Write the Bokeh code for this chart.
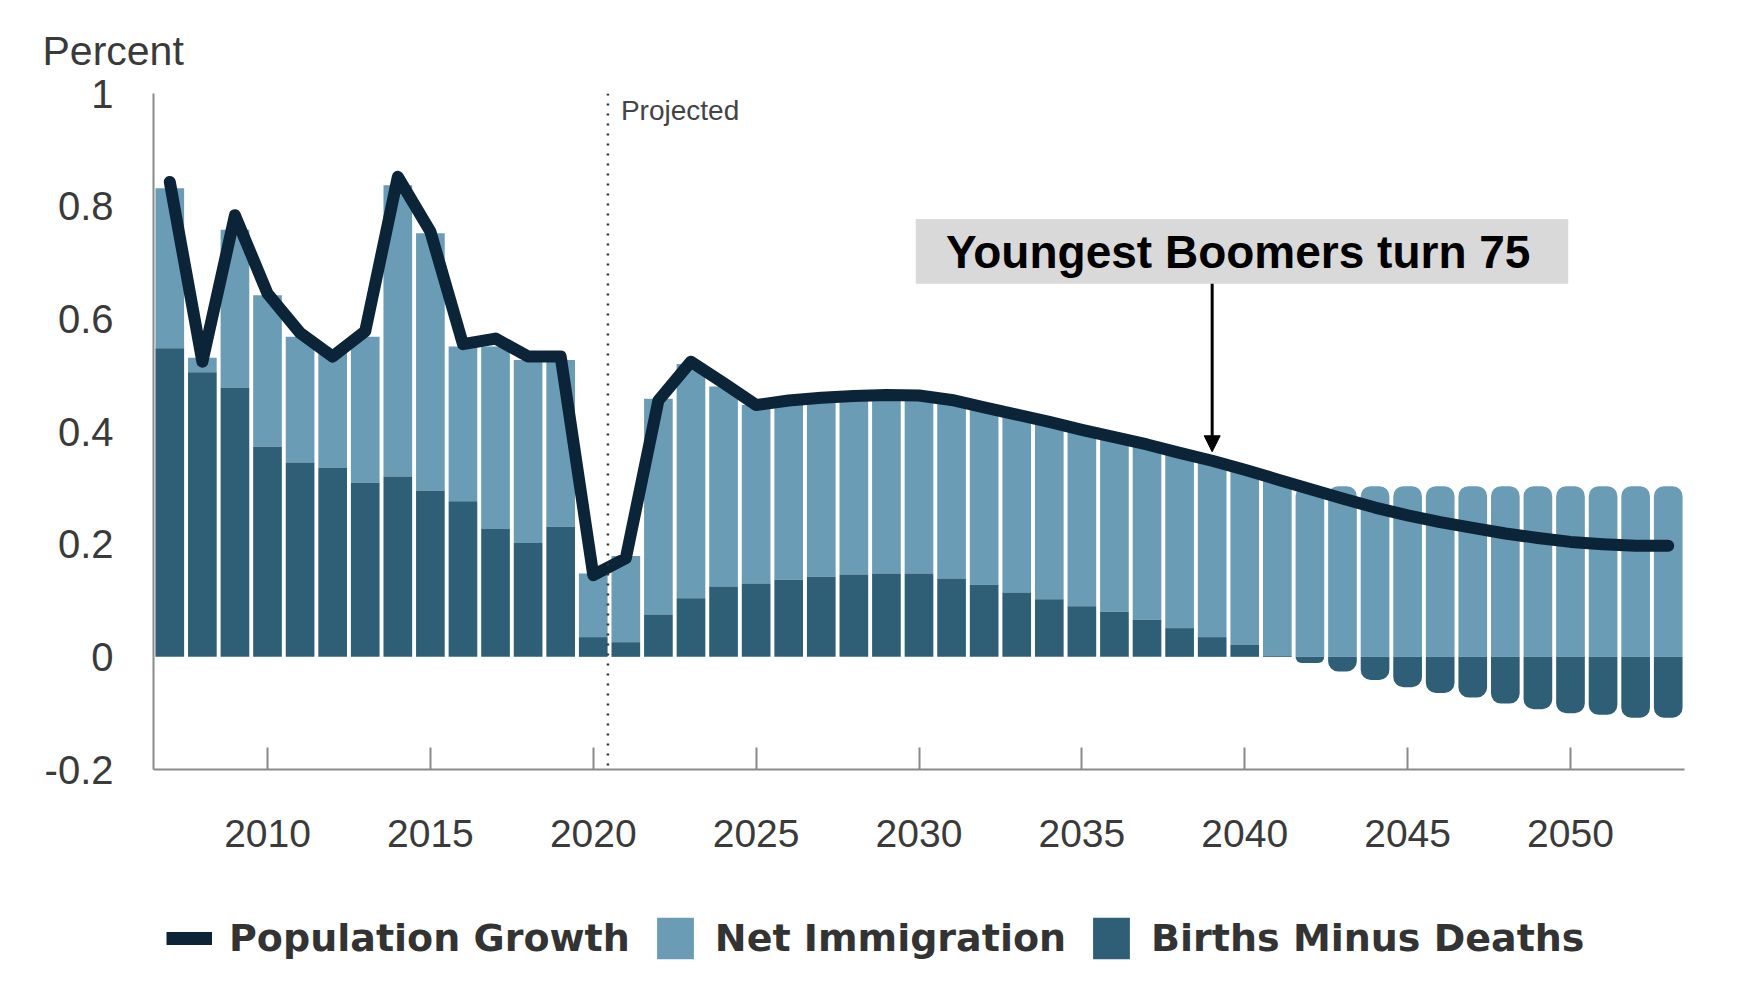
import numpy as np
from bokeh.plotting import figure
from bokeh.layouts import column
from bokeh.models import (Range1d, FixedTicker, Span, Label, BoxAnnotation, Arrow,
                          NormalHead, Legend, LegendItem, ColumnDataSource)
from bokeh.embed import file_html
from bokeh.resources import INLINE

# ---------------- data ----------------
years = list(range(2007, 2054))

births_minus_deaths = [
    0.548, 0.505, 0.477, 0.373, 0.345, 0.335, 0.309, 0.320, 0.295, 0.276,
    0.227, 0.202, 0.231, 0.035, 0.026, 0.075, 0.104, 0.125, 0.130, 0.137,
    0.142, 0.146, 0.148, 0.148, 0.139, 0.128, 0.114, 0.102, 0.090, 0.080,
    0.066, 0.051, 0.035, 0.021, 0.002, -0.011, -0.026, -0.041, -0.054, -0.064,
    -0.072, -0.083, -0.093, -0.100, -0.103, -0.108, -0.108,
]

net_immigration = [
    0.284, 0.026, 0.281, 0.269, 0.223, 0.210, 0.259, 0.517, 0.457, 0.275,
    0.324, 0.325, 0.296, 0.113, 0.153, 0.383, 0.416, 0.355, 0.317, 0.318,
    0.318, 0.317, 0.317, 0.316, 0.317, 0.315, 0.316, 0.315, 0.313, 0.310,
    0.311, 0.311, 0.313, 0.311, 0.313, 0.303, 0.303, 0.303, 0.303, 0.303,
    0.303, 0.303, 0.303, 0.303, 0.303, 0.303, 0.303,
]

population_growth = [
    0.843, 0.524, 0.784, 0.645, 0.575, 0.533, 0.578, 0.852, 0.755, 0.555,
    0.565, 0.533, 0.533, 0.145, 0.175, 0.455, 0.524, 0.486, 0.447, 0.455,
    0.460, 0.463, 0.465, 0.464, 0.456, 0.443, 0.430, 0.417, 0.403, 0.390,
    0.377, 0.362, 0.348, 0.332, 0.315, 0.298, 0.281, 0.265, 0.251, 0.239,
    0.229, 0.219, 0.211, 0.204, 0.200, 0.197, 0.197,
]

x_ticks = [2010, 2015, 2020, 2025, 2030, 2035, 2040, 2045, 2050]
y_ticks = [-0.2, 0, 0.2, 0.4, 0.6, 0.8, 1]
y_tick_labels = ["-0.2", "0", "0.2", "0.4", "0.6", "0.8", "1"]
series_names = ["Population Growth", "Net Immigration", "Births Minus Deaths"]

projected_start = 2020.45
annotation_text = "Youngest Boomers turn 75"
annotation_year = 2039

# ---------------- colors / fonts ----------------
LIGHT = "#6a9cb6"
DARK = "#2e5f77"
LINE = "#0c2438"
TXT = "#3a3a3a"

# ---------------- stacking ----------------
x = np.array(years, dtype=float)
bd = np.array(births_minus_deaths)
ni = np.array(net_immigration)
pos = bd >= 0
dark_bottom = np.where(pos, 0.0, bd)
dark_top = np.where(pos, bd, 0.0)
light_bottom = np.where(pos, bd, 0.0)
light_top = light_bottom + ni

W = 1750
H_MAIN = 879
H_LEG = 116
BL, BR = 153, W - 1684

p = figure(width=W, height=H_MAIN, output_backend="svg", toolbar_location=None,
           x_range=Range1d(2006.5, 2053.5), y_range=Range1d(-0.2, 1.0),
           min_border_left=BL, min_border_right=BR, min_border_top=93,
           min_border_bottom=H_MAIN - 769)
p.outline_line_color = None
p.background_fill_color = "white"
p.border_fill_color = "white"
p.grid.visible = False

# "Percent" as a left-aligned title pulled to the left of the frame
p.title.text = "Percent"
p.title.align = "left"
p.title.vertical_align = "top"
p.title.offset = -111
p.title.standoff = 36
p.title.text_font = "Liberation Sans"
p.title.text_font_style = "normal"
p.title.text_font_size = "41px"
p.title.text_color = TXT

BW = 0.88
R = 10

def src(mask, bottom, top):
    return ColumnDataSource(dict(x=x[mask], bottom=bottom[mask], top=top[mask]))

# years with positive births-minus-deaths
p.vbar(x="x", bottom="bottom", top="top", width=BW, source=src(pos, light_bottom, light_top),
       fill_color=LIGHT, line_color=None)
p.vbar(x="x", bottom="bottom", top="top", width=BW, source=src(pos, dark_bottom, dark_top),
       fill_color=DARK, line_color=None)
# years with negative births-minus-deaths (rounded ends)
neg = ~pos
p.vbar(x="x", bottom="bottom", top="top", width=BW, source=src(neg, light_bottom, light_top),
       fill_color=LIGHT, line_color=None, border_radius=(R, R, 0, 0))
p.vbar(x="x", bottom="bottom", top="top", width=BW, source=src(neg, dark_bottom, dark_top),
       fill_color=DARK, line_color=None, border_radius=(0, 0, R, R))

p.line(x, population_growth, line_color=LINE, line_width=12,
       line_join="round", line_cap="round")

# axes
xa = p.xaxis[0]
xa.ticker = FixedTicker(ticks=x_ticks)
xa.axis_line_color = "#8a8a8a"
xa.axis_line_width = 2
xa.major_tick_line_color = "#8a8a8a"
xa.major_tick_line_width = 2
xa.major_tick_in = 22
xa.major_tick_out = 0
xa.minor_tick_line_color = None
xa.major_label_text_font = "Liberation Sans"
xa.major_label_text_font_size = "39px"
xa.major_label_text_color = TXT
xa.major_label_standoff = 50

ya = p.yaxis[0]
ya.ticker = FixedTicker(ticks=y_ticks)
ya.major_label_overrides = {t: l for t, l in zip(y_ticks, y_tick_labels)}
ya.axis_line_color = "#8a8a8a"
ya.axis_line_width = 2
ya.major_tick_line_color = None
ya.major_tick_in = 0
ya.major_tick_out = 0
ya.minor_tick_line_color = None
ya.major_label_text_font = "Liberation Sans"
ya.major_label_text_font_size = "40px"
ya.major_label_text_color = TXT
ya.major_label_standoff = 40

# projected divider
p.add_layout(Span(location=projected_start, dimension="height", line_color="#333333",
                  line_width=2.5, line_dash="2 8"))
p.add_layout(Label(x=projected_start, y=0.969, x_offset=13, text="Projected",
                   text_font="Liberation Sans", text_font_size="28px", text_color="#444444",
                   text_baseline="alphabetic"))

# annotation box + arrow
p.add_layout(BoxAnnotation(left=2029.9, right=2049.93, bottom=0.6625, top=0.777,
                           fill_color="#d9d9d9", fill_alpha=1.0, line_color=None))
p.add_layout(Label(x=2039.8, y=0.718, text=annotation_text, text_align="center",
                   text_baseline="middle", text_font="Liberation Sans", text_font_style="bold",
                   text_font_size="46px", text_color="black"))
p.add_layout(Arrow(x_start=annotation_year, y_start=0.6625, x_end=annotation_year, y_end=0.364,
                   line_color="black", line_width=3,
                   end=NormalHead(size=16, fill_color="black", line_color="black")))

# ---------------- legend strip (separate figure below) ----------------
# its ranges are chosen so that the data itself lies outside; only the legend shows
q = figure(width=W, height=H_LEG, output_backend="svg", toolbar_location=None,
           x_axis_type=None, y_axis_type=None,
           min_border_left=BL, min_border_right=BR, min_border_top=0, min_border_bottom=0,
           x_range=Range1d(0, 1), y_range=Range1d(5, 6))
q.outline_line_color = None
q.grid.visible = False
q.background_fill_color = "white"
q.border_fill_color = "white"

lg_line = q.line(x, population_growth, line_color=LINE, line_width=13, line_cap="butt")
lg_light = q.vbar(x=x, bottom=light_bottom, top=light_top, width=BW, fill_color=LIGHT, line_color=None)
lg_dark = q.vbar(x=x, bottom=dark_bottom, top=dark_top, width=BW, fill_color=DARK, line_color=None)

legend = Legend(items=[LegendItem(label=series_names[0], renderers=[lg_line]),
                       LegendItem(label=series_names[1], renderers=[lg_light]),
                       LegendItem(label=series_names[2], renderers=[lg_dark])],
                orientation="horizontal", location=(166 - BL, 31),
                glyph_width=46, glyph_height=52, label_standoff=17, spacing=22,
                padding=0, margin=0, border_line_color=None, background_fill_alpha=0,
                label_text_font="DejaVu Sans", label_text_font_style="bold",
                label_text_font_size="38px", label_text_color="#333333")
q.add_layout(legend, "center")

layout = column(p, q, spacing=0)
open("out.html", "w").write(file_html(layout, INLINE))
